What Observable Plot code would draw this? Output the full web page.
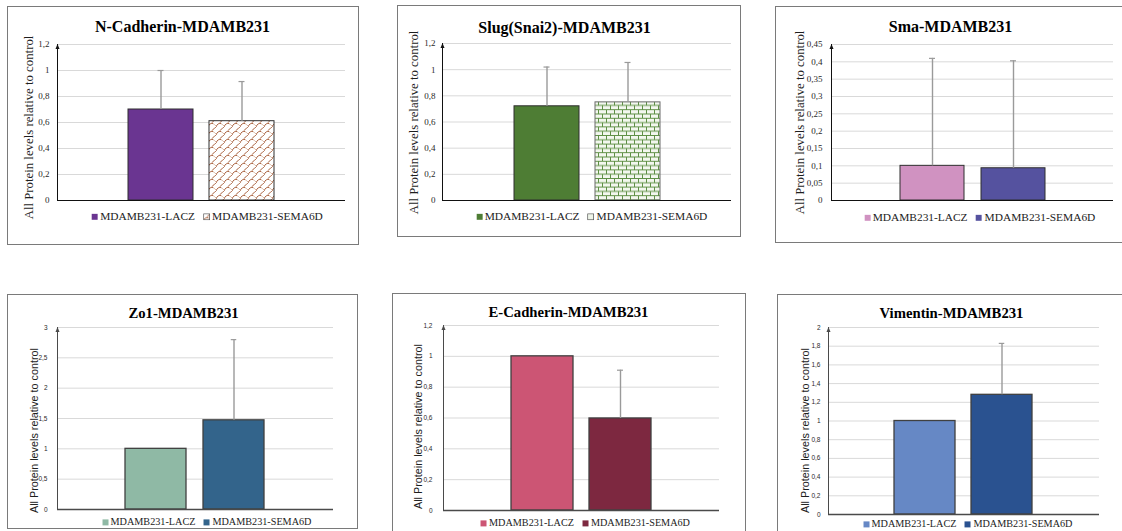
<!DOCTYPE html>
<html><head><meta charset="utf-8">
<script src="https://cdn.jsdelivr.net/npm/d3@7"></script>
<script src="https://cdn.jsdelivr.net/npm/@observablehq/plot@0.6"></script>
<style>
body{margin:0;background:#fff;width:1122px;height:531px;overflow:hidden;position:relative;}
.panel{position:absolute;border:1px solid #7a7a7a;box-sizing:border-box;background:#fff;}
.panel > svg{position:absolute;left:0;top:0;overflow:visible}
.legend{position:absolute;display:flex;align-items:center;white-space:nowrap;transform:translate(-50%,-50%);font-family:"Liberation Serif","Times New Roman",serif;color:#222;line-height:1}
.item{display:inline-flex;align-items:center}
</style></head><body>
<svg width="0" height="0" style="position:absolute">
<defs>
<pattern id="pShingle" width="8" height="8" patternUnits="userSpaceOnUse">
 <rect width="8" height="8" fill="#fff"/>
 <path d="M0,8 C1,5 3,4 5,4.5 M3.5,4.2 C5,3 6,1 8,0" stroke="#a0522d" fill="none" stroke-width="0.9"/>
 <path d="M5,4.5 C6,5 7,6 8,7" stroke="#cfa48c" fill="none" stroke-width="0.8"/>
</pattern>
<pattern id="pBrick" width="8" height="8.6" patternUnits="userSpaceOnUse">
 <rect width="8" height="8.6" fill="#f3f7ef"/>
 <path d="M0,0.5H8M0,4.8H8M0.5,0.5V4.8M4.5,4.8V8.6" stroke="#5e8f44" stroke-width="1"/>
</pattern>
</defs></svg>
<script>
// ---------- data ----------
const groups = ["MDAMB231-LACZ", "MDAMB231-SEMA6D"];
const titles = ["N-Cadherin-MDAMB231", "Slug(Snai2)-MDAMB231", "Sma-MDAMB231",
                "Zo1-MDAMB231", "E-Cadherin-MDAMB231", "Vimentin-MDAMB231"];
const yTitle = "All Protein levels relative to control";
const laczValues = [0.70, 0.72, 0.100, 1.00, 1.00, 1.00];
const laczErrors = [0.30, 0.30, 0.310, 0.00, 0.00, 0.00];
const semaValues = [0.61, 0.75, 0.093, 1.47, 0.597, 1.28];
const semaErrors = [0.305, 0.305, 0.310, 1.33, 0.313, 0.55];
const yMax = [1.2, 1.2, 0.45, 3, 1.2, 2];
const yTicks = [
  [0, 0.2, 0.4, 0.6, 0.8, 1, 1.2],
  [0, 0.2, 0.4, 0.6, 0.8, 1, 1.2],
  [0, 0.05, 0.1, 0.15, 0.2, 0.25, 0.3, 0.35, 0.4, 0.45],
  [0, 0.5, 1, 1.5, 2, 2.5, 3],
  [0, 0.2, 0.4, 0.6, 0.8, 1, 1.2],
  [0, 0.2, 0.4, 0.6, 0.8, 1, 1.2, 1.4, 1.6, 1.8, 2]
];

// ---------- layout (page pixels) ----------
const layout = [
  {box:[7,6,359,245],   frame:[57,44,345,200],   bar:[65,16],   title:[182,31],  ylab:[28,127],  legend:[207,217],   row:0, pad:8,
   fills:["#6a3591","url(#pShingle)"], swatch:["#6a3591","url(#pShingle)"]},
  {box:[397,5,741,237], frame:[442,43,731,200],  bar:[65,16],   title:[564,32],  ylab:[413,122], legend:[591.5,217], row:0, pad:7,
   fills:["#4e7d34","url(#pBrick)"], swatch:["#4e7d34","#eef4e8"]},
  {box:[775,6,1130,243],frame:[831,44,1113,200], bar:[64,17],   title:[950,31],  ylab:[799,122], legend:[979.5,218], row:0, pad:9,
   fills:["#d092c1","#55529f"], swatch:["#d092c1","#55529f"]},
  {box:[7,294,358,529], frame:[57,327,333,509],  bar:[61.5,17], title:[183,317], ylab:[34,430],  legend:[206.5,522], row:1, pad:10,
   fills:["#8fb9a5","#33648b"], swatch:["#8fb9a5","#33648b"]},
  {box:[392,293,746,545],frame:[443,325,719,510],bar:[62,16],   title:[568,316], ylab:[418,426], legend:[585,523],   row:1, pad:11,
   fills:["#cc5574","#7d2840"], swatch:["#cc5574","#7d2840"]},
  {box:[777,294,1130,545],frame:[828,327,1099,514],bar:[61.5,16],title:[951,317],ylab:[805,430], legend:[967.5,524], row:1, pad:8,
   fills:["#6688c5","#2a5290"], swatch:["#6688c5","#2a5290"]}
];

const fmt = d => String(+(+d).toFixed(2)).replace(".", ",");
const serif = "'Liberation Serif', 'Times New Roman', serif";
const sans = "'Liberation Sans', Arial, sans-serif";

layout.forEach((L, i) => {
  const [bl, bt, br, bb] = L.box;
  const panel = document.createElement("div");
  panel.className = "panel";
  Object.assign(panel.style, {left: bl + "px", top: bt + "px", width: (br - bl) + "px", height: (bb - bt) + "px"});
  document.body.appendChild(panel);
  const ox = bl + 1, oy = bt + 1;
  const [fl, ft, fr, fb] = L.frame;
  const W = br - bl - 2;
  const H = fb - oy + 6;
  const [bw, gap] = L.bar;
  const s = bw + gap, pi = gap / s, po = ((fr - fl) / s - 2 + pi) / 2;
  const rows = groups.map((g, j) => ({group: g, value: j ? semaValues[i] : laczValues[i], err: j ? semaErrors[i] : laczErrors[i]}));
  const errRows = rows.filter(d => d.err > 0);
  const top = L.row === 0;
  const tickFont = top ? {fontFamily: serif, fontSize: 9} : {fontFamily: sans, fontSize: 6.5};
  const axisColor = top ? "#111" : "#4a4a4a";
  const capInset = (bw - 6) / 2;
  const chart = Plot.plot({
    width: W, height: H,
    marginLeft: fl - ox, marginRight: ox + W - fr, marginTop: ft - oy, marginBottom: oy + H - fb,
    x: {type: "band", domain: groups, paddingInner: pi, paddingOuter: po, axis: null},
    y: {domain: [0, yMax[i]]},
    style: {background: "transparent", overflow: "visible", color: "#2a2a2a"},
    marks: [
      Plot.gridY(yTicks[i].filter(t => t > 0), {stroke: "#d9d9d9", strokeOpacity: 1, strokeWidth: 1}),
      Plot.axisY(yTicks[i], {tickSize: 0, tickPadding: L.pad, tickFormat: fmt, label: null, ...tickFont}),
      Plot.barY([rows[0]], {x: "group", y: "value", fill: L.fills[0], stroke: top ? "#2e2e2e" : "#404040", strokeWidth: top ? 1 : 1.3}),
      Plot.barY([rows[1]], {x: "group", y: "value", fill: L.fills[1], stroke: i === 1 ? "#6b6b6b" : (top ? "#2e2e2e" : "#404040"), strokeWidth: top ? 1 : 1.3}),
      Plot.ruleX(errRows, {x: "group", y1: "value", y2: d => d.value + d.err, stroke: "#9a9a9a", strokeWidth: 1.4}),
      Plot.tickY(errRows, {x: "group", y: d => d.value + d.err, stroke: "#9a9a9a", strokeWidth: 1.2, insetLeft: capInset, insetRight: capInset}),
      Plot.ruleY([0], {stroke: axisColor, strokeWidth: top ? 1 : 1.4, ariaLabel: "xaxisline"}),
      Plot.frame({anchor: "left", stroke: axisColor, strokeWidth: 1, ariaLabel: "yaxisline"}),
      Plot.text([titles[i]], {frameAnchor: "top", dx: L.title[0] - (fl + fr) / 2, dy: L.title[1] - ft, lineAnchor: "bottom",
        fontWeight: "bold", fontFamily: serif, fontSize: top ? 16 : 14.7, fill: "#000"}),
      Plot.text([yTitle], {frameAnchor: "left", rotate: -90, dx: L.ylab[0] - fl, dy: L.ylab[1] - (ft + fb) / 2,
        lineAnchor: "middle", textAnchor: "middle", fill: "#1e1e1e",
        fontFamily: top ? serif : sans, fontSize: top ? 12.8 : 10.8})
    ]
  });
  // arrow heads on the axis lines
  const ns = "http://www.w3.org/2000/svg";
  const defs = document.createElementNS(ns, "defs");
  defs.innerHTML = `<marker id="arr${i}" viewBox="0 0 10 10" refX="9" refY="5" markerWidth="5" markerHeight="5" markerUnits="userSpaceOnUse" orient="auto-start-reverse"><path d="M0,1L10,5L0,9z" fill="${axisColor}"/></marker>`;
  chart.prepend(defs);
  const yl = chart.querySelector('[aria-label="yaxisline"]');
  if (yl) { const ln = yl.tagName.toLowerCase() === "line" ? yl : yl.querySelector("line"); if (ln) ln.setAttribute("marker-start", `url(#arr${i})`); }
  if (top) {
    const xl = chart.querySelector('[aria-label="xaxisline"] line');
    if (xl) xl.setAttribute("marker-end", `url(#arr${i})`);
  }
  panel.appendChild(chart);

  // legend
  const leg = document.createElement("div");
  leg.className = "legend";
  leg.style.left = (L.legend[0] - ox) + "px";
  leg.style.top = (L.legend[1] - oy) + "px";
  leg.style.fontSize = top ? "11.4px" : "10.2px";
  groups.forEach((g, j) => {
    const item = document.createElement("span");
    item.className = "item";
    if (j) item.style.marginLeft = "8px";
    item.innerHTML = `<svg width="7" height="7" style="margin-right:2px"><rect x="0.5" y="0.5" width="6" height="6" fill="${L.swatch[j]}" stroke="${L.swatch[j].startsWith('url') || i === 1 && j === 1 ? '#555' : 'none'}" stroke-width="0.8"/></svg>${g}`;
    leg.appendChild(item);
  });
  panel.appendChild(leg);
});
</script>
</body></html>
